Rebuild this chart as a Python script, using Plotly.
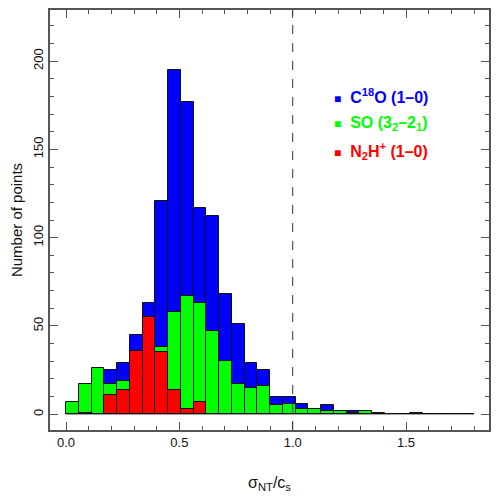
"""
Histogram of sigma_NT / c_s for three tracers, overlaid.
"""

import plotly.graph_objects as go

BIN_WIDTH = 1.8 / 32

C18O_COUNTS = [4, 10, 18, 25, 29, 45, 63, 121, 195, 177, 117, 112, 68, 51, 29, 25,
               10, 10, 6, 3, 5, 2, 2, 1, 1, 0, 0, 0, 0, 0, 0, 0]
SO_COUNTS = [7, 17, 26, 17, 19, 24, 30, 38, 58, 67, 63, 47, 30, 17, 15, 16,
             5, 6, 3, 3, 2, 2, 1, 2, 0, 0, 0, 1, 0, 0, 0, 0]
N2H_COUNTS = [0, 1, 0, 11, 14, 36, 55, 35, 14, 3, 7, 0, 0, 0, 0, 0,
              0, 0, 0, 0, 0, 0, 0, 0, 0, 0, 0, 0, 0, 0, 0, 0]

SERIES = [
    ("C<sup>18</sup>O (1–0)", C18O_COUNTS, "#0000ff"),
    ("SO (3<sub>2</sub>–2<sub>1</sub>)", SO_COUNTS, "#00ff00"),
    ("N<sub>2</sub>H<sup>+</sup> (1–0)", N2H_COUNTS, "#ff0000"),
]

X_TICKS = [0.0, 0.5, 1.0, 1.5]
X_TICK_TEXT = ["0.0", "0.5", "1.0", "1.5"]
Y_TICKS = [0, 50, 100, 150, 200]

AXIS_GREY = "#555555"
FONT = "Liberation Sans, Arial, sans-serif"

fig = go.Figure()

for name, counts, color in SERIES:
    fig.add_trace(
        go.Bar(
            y=counts,
            x0=BIN_WIDTH / 2,
            dx=BIN_WIDTH,
            width=BIN_WIDTH,
            name=name,
            marker=dict(color=color, line=dict(color="#111111", width=1)),
            showlegend=False,
        )
    )

# histogram baseline over the full binned range
fig.add_shape(
    type="line",
    x0=0, x1=BIN_WIDTH * len(C18O_COUNTS), y0=0, y1=0,
    line=dict(color="#888888", width=1),
    layer="below",
)

fig.add_vline(x=1.0, line=dict(color="#333333", width=1, dash="dash"))

# legend drawn as coloured text lines
legend_y = [0.795, 0.730, 0.665]
for (name, counts, color), ly in zip(SERIES, legend_y):
    fig.add_annotation(
        text=f"<span style='font-size:12px'>■</span>  <b>{name}</b>",
        xref="paper", yref="paper",
        x=0.643, y=ly,
        xanchor="left", yanchor="middle",
        showarrow=False,
        font=dict(family=FONT, size=16, color=color),
    )

axis_common = dict(
    showline=True,
    linecolor=AXIS_GREY,
    linewidth=1.5,
    mirror="allticks",
    ticks="inside",
    ticklen=8,
    tickwidth=1,
    tickcolor=AXIS_GREY,
    showgrid=False,
    zeroline=False,
    automargin=False,
    tickfont=dict(family=FONT, size=13, color="#111111"),
)

fig.update_xaxes(
    **axis_common,
    range=[-0.0706, 1.866],
    tickvals=X_TICKS,
    ticktext=X_TICK_TEXT,
    minor=dict(ticks="inside", dtick=0.1, tick0=0, ticklen=4, tickcolor=AXIS_GREY),
    title=dict(text="σ<sub>NT</sub>/c<sub>s</sub>", font=dict(family=FONT, size=16), standoff=27),
)
fig.update_yaxes(
    **axis_common,
    range=[-8.9, 228.9],
    tickvals=Y_TICKS,
    tickangle=-90,
    minor=dict(ticks="inside", dtick=10, tick0=0, ticklen=4, tickcolor=AXIS_GREY),
    title=dict(text="Number of points", font=dict(family=FONT, size=15), standoff=14),
)

fig.update_layout(
    width=492,
    height=492,
    barmode="overlay",
    bargap=0,
    paper_bgcolor="white",
    plot_bgcolor="white",
    margin=dict(l=42, r=11, t=2, b=70),
    font=dict(family=FONT, color="#111111"),
)

fig.write_html("out.html")
